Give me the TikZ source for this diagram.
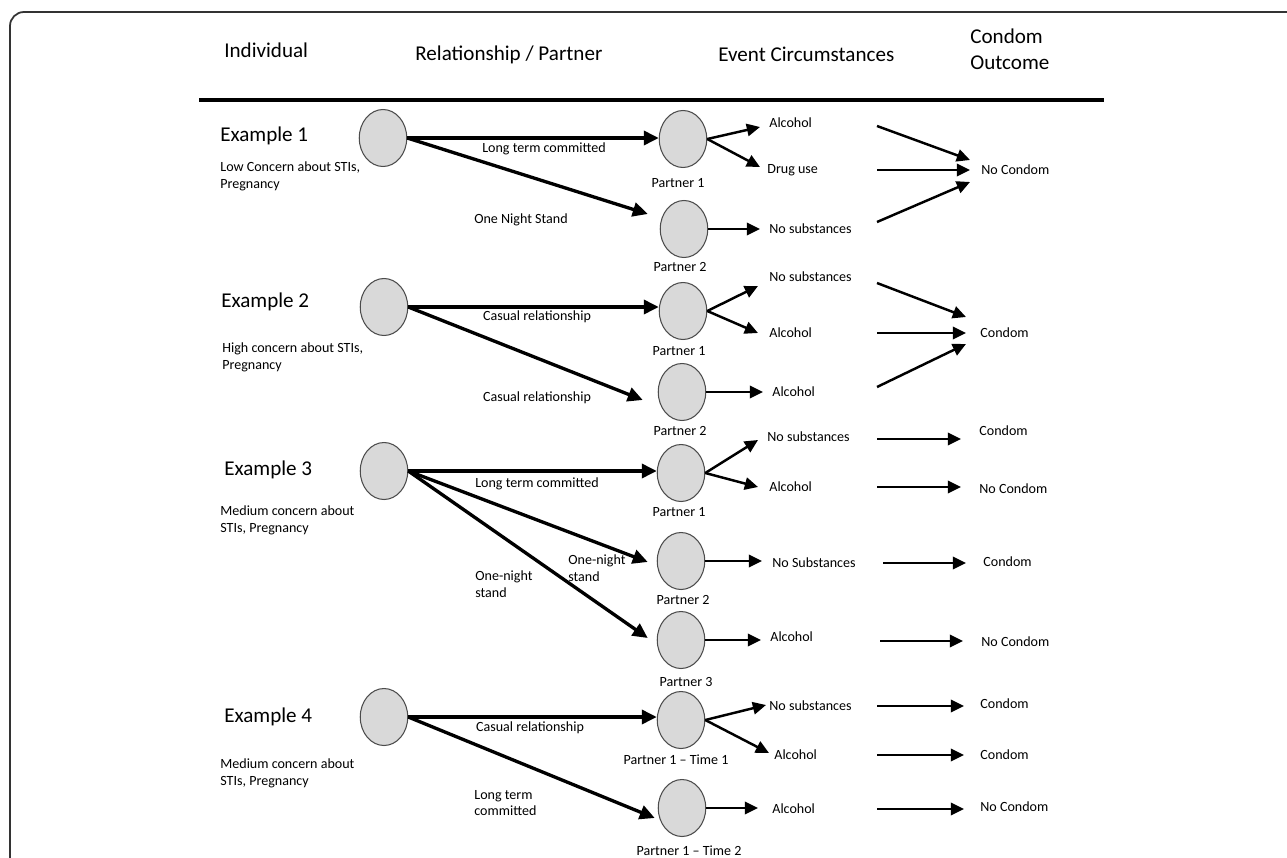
\documentclass[tikz,border=0pt]{standalone}
\usepackage{fontspec}
\setmainfont{Carlito}
\usetikzlibrary{positioning, arrows.meta, shapes.geometric, calc}

\begin{document}
\begin{tikzpicture}[
        x=0.02cm, y=-0.02cm,
        heading/.style={font=\fontsize{12}{14.7}\selectfont, inner sep=0pt, anchor=west, align=left},
        note/.style={font=\fontsize{8}{9.6}\selectfont, inner sep=0pt},
        notel/.style={note, anchor=west, align=left},
        person/.style={
            ellipse, draw=black!70, line width=0.6pt, fill=black!15,
            minimum width=0.95cm, minimum height=1.14cm, inner sep=0pt
        },
        relarrow/.style={line width=1.9pt, -{Triangle[length=8.5pt,width=8pt]}},
        evarrow/.style={line width=1.4pt, -{Triangle[length=7.5pt,width=7pt]}}
    ]
    \useasboundingbox (0,0) rectangle (1287,858);

    % Frame and headings
    \draw[line width=1pt, black!80, rounded corners=0.28cm] (10,858) -- (10,12) -- (1287,12);
    \node (hInd) [heading] at (224,50) {Individual};
    \node (hRel) [heading] at (415,55) {Relationship / Partner};
    \node (hEvt) [heading] at (718,54) {Event Circumstances};
    \node (hOut) [heading] at (970,49) {Condom\\Outcome};
    \draw[line width=1.8pt] (199,100) -- (1104,100);
    \coordinate (outx) at (877,0);

    % Example 1
    \node (ex1) [heading] at (220,136) {Example 1};
    \node (ex1txt) [notel] at (220,176) {Low Concern about STIs,\\Pregnancy};
    \node (ind1) [person] at (383,138) {};
    \node (e1p1) [person] at (683,139) {};
    \node (e1p2) [person] at (684,229) {};
    \node (e1p1lbl) [note] at (678,183) {Partner 1};
    \node (e1p2lbl) [note] at (680,267) {Partner 2};
    \node (l11) [note] at (544,149) {Long term committed};
    \node (l12) [note] at (521,220) {One Night Stand};
    \node (alc11) [notel] at (769,123) {Alcohol};
    \node (drug11) [notel] at (767,170) {Drug use};
    \node (nos12) [notel] at (769,229) {No substances};
    \node (out1) [notel] at (981,170) {No Condom};

    \draw[relarrow] (ind1.east) -- (ind1.east -| e1p1.west);
    \draw[relarrow] (ind1.east) -- ([shift={(-12,-15)}]e1p2.west);
    \draw[evarrow] (e1p1.east) -- ([shift={(-9,4)}]alc11.west);
    \draw[evarrow] (e1p1.east) -- ([shift={(-7,-3)}]drug11.west);
    \draw[evarrow, shorten >=0.18cm] (e1p2.east) -- (e1p2.east -| nos12.west);
    \draw[evarrow] ($(alc11.west -| outx)+(0,3)$) -- ([shift={(-11,-10)}]out1.west);
    \draw[evarrow] (drug11.west -| outx) -- ([shift={(-11,0)}]out1.west);
    \draw[evarrow] ($(nos12.west -| outx)+(0,-7)$) -- ([shift={(-11,12)}]out1.west);

    % Example 2
    \node (ex2) [heading] at (221,302) {Example 2};
    \node (ex2txt) [notel] at (222,357) {High concern about STIs,\\Pregnancy};
    \node (ind2) [person] at (384,307) {};
    \node (e2p1) [person] at (683,311) {};
    \node (e2p2) [person] at (682,392) {};
    \node (e2p1lbl) [note] at (679,351) {Partner 1};
    \node (e2p2lbl) [note] at (680,431) {Partner 2};
    \node (l21) [note] at (537,317) {Casual relationship};
    \node (l22) [note] at (537,398) {Casual relationship};
    \node (nos21) [notel] at (769,277) {No substances};
    \node (alc21) [notel] at (769,333) {Alcohol};
    \node (alc22) [notel] at (772,392) {Alcohol};
    \node (out2) [notel] at (980,333) {Condom};

    \draw[relarrow] (ind2.east) -- (ind2.east -| e2p1.west);
    \draw[relarrow] (ind2.east) -- ([shift={(-15,8)}]e2p2.west);
    \draw[evarrow] (e2p1.east) -- ([shift={(-11,9)}]nos21.west);
    \draw[evarrow] (e2p1.east) -- ([shift={(-11,0)}]alc21.west);
    \draw[evarrow, shorten >=0.18cm] (e2p2.east) -- (e2p2.east -| alc22.west);
    \draw[evarrow] ($(nos21.west -| outx)+(0,6)$) -- ([shift={(-14,-16)}]out2.west);
    \draw[evarrow] (alc21.west -| outx) -- ([shift={(-14,0)}]out2.west);
    \draw[evarrow] ($(alc22.west -| outx)+(0,-5)$) -- ([shift={(-14,11)}]out2.west);

    % Example 3
    \node (ex3) [heading] at (224,470) {Example 3};
    \node (ex3txt) [notel] at (220,520) {Medium concern about\\STIs, Pregnancy};
    \node (ind3) [person] at (384,471) {};
    \node (e3p1) [person] at (681,473) {};
    \node (e3p2) [person] at (681,561) {};
    \node (e3p3) [person] at (681,640) {};
    \node (e3p1lbl) [note] at (679,512) {Partner 1};
    \node (e3p2lbl) [note] at (683,600) {Partner 2};
    \node (e3p3lbl) [note] at (686,682) {Partner 3};
    \node (l31) [note] at (537,484) {Long term committed};
    \node (l32) [notel] at (568,568) {One-night\\stand};
    \node (l33) [notel] at (475,584) {One-night\\stand};
    \node (nos31) [notel] at (767,437) {No substances};
    \node (alc31) [notel] at (769,487) {Alcohol};
    \node (nos32) [notel] at (772,563) {No Substances};
    \node (alc32) [notel] at (770,637) {Alcohol};
    \node (out31) [notel] at (979,431) {Condom};
    \node (out32) [notel] at (979,489) {No Condom};
    \node (out33) [notel] at (983,562) {Condom};
    \node (out34) [notel] at (981,642) {No Condom};

    \draw[relarrow] (ind3.east) -- (ind3.east -| e3p1.west);
    \draw[relarrow] (ind3.east) -- ([shift={(-9,1)}]e3p2.west);
    \draw[relarrow] (ind3.east) -- ([shift={(-9,-2)}]e3p3.west);
    \draw[evarrow] (e3p1.east) -- ([shift={(-9,3)}]nos31.west);
    \draw[evarrow] (e3p1.east) -- ([shift={(-11,0)}]alc31.west);
    \draw[evarrow, shorten >=0.2cm] (e3p2.east) -- (e3p2.east -| nos32.west);
    \draw[evarrow, shorten >=0.18cm] (e3p3.east) -- (e3p3.east -| alc32.west);
    \draw[evarrow, shorten >=0.36cm] ($(nos31.west -| outx)+(0,2)$) -- ($(nos31.west -| out31.west)+(0,2)$);
    \draw[evarrow, shorten >=0.36cm] (alc31.west -| outx) -- (alc31.west -| out32.west);
    \draw[evarrow, shorten >=0.34cm] ($(nos32.west -| outx)+(6,0)$) -- (nos32.west -| out33.west);
    \draw[evarrow, shorten >=0.36cm] ($(alc32.west -| outx)+(3,4)$) -- ($(alc32.west -| out34.west)+(0,4)$);

    % Example 4
    \node (ex4) [heading] at (224,717) {Example 4};
    \node (ex4txt) [notel] at (220,773) {Medium concern about\\STIs, Pregnancy};
    \node (ind4) [person] at (384,717) {};
    \node (e4p1) [person] at (681,720) {};
    \node (e4p2) [person] at (682,808) {};
    \node (e4p1lbl) [note] at (676,760) {Partner 1 – Time 1};
    \node (e4p2lbl) [note] at (689,851) {Partner 1 – Time 2};
    \node (l41) [note] at (530,728) {Casual relationship};
    \node (l42) [notel] at (474,803) {Long term\\committed};
    \node (nos41) [notel] at (769,706) {No substances};
    \node (alc41) [notel] at (774,755) {Alcohol};
    \node (alc42) [notel] at (772,809) {Alcohol};
    \node (out41) [notel] at (980,704) {Condom};
    \node (out42) [notel] at (980,755) {Condom};
    \node (out43) [notel] at (980,807) {No Condom};

    \draw[relarrow] (ind4.east) -- (ind4.east -| e4p1.west);
    \draw[relarrow] (ind4.east) -- ([shift={(-3,10)}]e4p2.west);
    \draw[evarrow] (e4p1.east) -- ([shift={(-3,-1)}]nos41.west);
    \draw[evarrow] (e4p1.east) -- ([shift={(-5,-2)}]alc41.west);
    \draw[evarrow, shorten >=0.28cm] (e4p2.east) -- (e4p2.east -| alc42.west);
    \draw[evarrow, shorten >=0.32cm] (nos41.west -| outx) -- (nos41.west -| out41.west);
    \draw[evarrow, shorten >=0.32cm] (alc41.west -| outx) -- (alc41.west -| out42.west);
    \draw[evarrow, shorten >=0.32cm] (alc42.west -| outx) -- (alc42.west -| out43.west);

\end{tikzpicture}
\end{document}
